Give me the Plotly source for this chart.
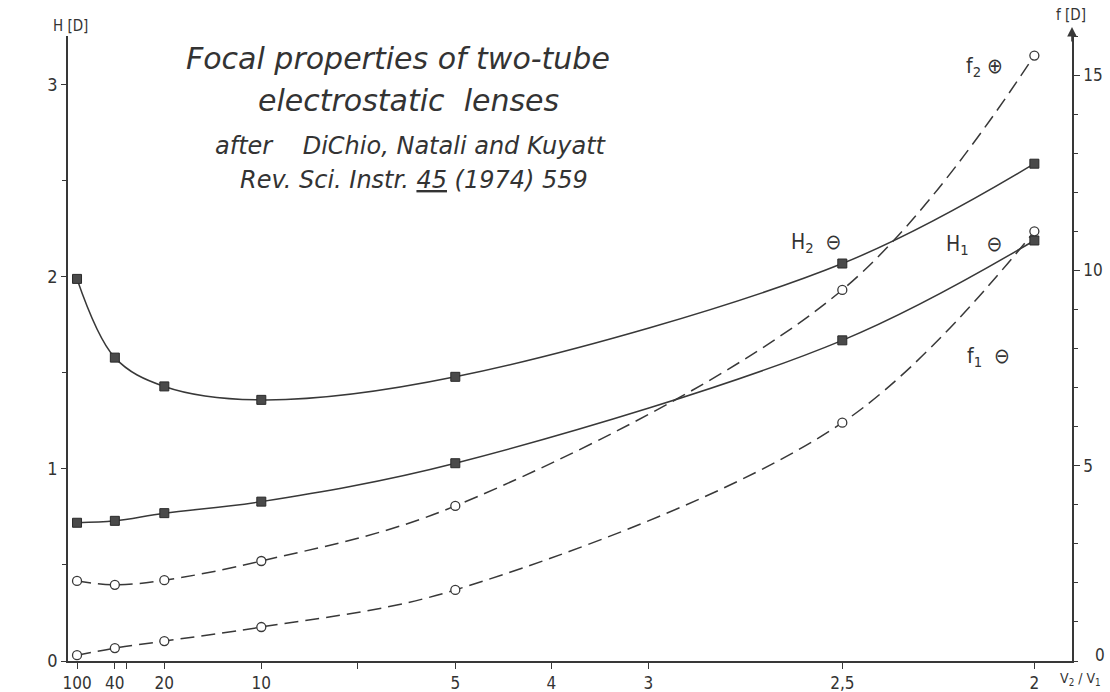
import plotly.graph_objects as go

# ---- data -------------------------------------------------------------
ratio_labels = ["100", "40", "", "20", "10", "", "5", "4", "3", "2,5", "2"]
tick_pos = [0.0, 0.39, 0.505, 0.9, 1.9, 2.89, 3.9, 4.89, 5.89, 7.89, 9.87]

ratios = ["100", "40", "20", "10", "5", "2,5", "2"]
H2 = [1.99, 1.58, 1.43, 1.36, 1.48, 2.07, 2.59]
H1 = [0.72, 0.73, 0.77, 0.83, 1.03, 1.67, 2.19]
f2 = [2.05, 1.95, 2.07, 2.56, 3.97, 9.5, 15.5]
f1 = [0.15, 0.33, 0.51, 0.87, 1.82, 6.1, 11.0]

pos_of = {lab: p for lab, p in zip(ratio_labels, tick_pos) if lab}
xs = [pos_of[r] for r in ratios]

INK = "#383838"
FONT = "Liberation Sans Narrow, DejaVu Sans Condensed, Arial Narrow, sans-serif"
TFONT = "DejaVu Sans, Liberation Sans, sans-serif"

fig = go.Figure()

sq = dict(symbol="square", size=9, color="#4a4a4a", line=dict(color="#2a2a2a", width=1))
oc = dict(symbol="circle", size=9, color="white", line=dict(color=INK, width=1.3))

fig.add_trace(go.Scatter(x=xs, y=H2, mode="lines+markers",
                         line=dict(color=INK, width=1.5, shape="spline"),
                         marker=sq, yaxis="y", showlegend=False))
fig.add_trace(go.Scatter(x=xs, y=H1, mode="lines+markers",
                         line=dict(color=INK, width=1.5, shape="spline"),
                         marker=sq, yaxis="y", showlegend=False))
fig.add_trace(go.Scatter(x=xs, y=f2, mode="lines+markers",
                         line=dict(color=INK, width=1.5, shape="spline", dash="14px,7px"),
                         marker=oc, yaxis="y2", showlegend=False))
fig.add_trace(go.Scatter(x=xs, y=f1, mode="lines+markers",
                         line=dict(color=INK, width=1.5, shape="spline", dash="14px,7px"),
                         marker=oc, yaxis="y2", showlegend=False))

L, R, T, B = 68, 38, 36, 31
W, Hh = 1110, 692
pw, ph = W - L - R, Hh - T - B


def px(xp):
    return (xp - L) / pw


def py(yp):
    return (Hh - B - yp) / ph


annos = []
# title block
title_lines = [
    ("Focal properties of two-tube", 398, 58, 30),
    ("electrostatic  lenses", 408, 100, 30),
    ("after    DiChio, Natali and Kuyatt", 411, 146, 24),
    ("Rev. Sci. Instr. <u>45</u> (1974) 559", 414, 180, 24),
]
for txt, x0, y0, sz in title_lines:
    annos.append(dict(text=f"<i>{txt}</i>", x=px(x0), y=py(y0), xref="paper", yref="paper",
                      showarrow=False, xanchor="center", yanchor="middle",
                      font=dict(family=TFONT, size=sz, color="#333")))

# series labels
series_labels = [
    ("H<sub>2</sub>  ⊖", 816, 243),
    ("H<sub>1</sub>   ⊖", 974, 245),
    ("f<sub>1</sub>  ⊖", 988, 357),
    ("f<sub>2</sub> ⊕", 984, 67),
]
for txt, x0, y0 in series_labels:
    annos.append(dict(text=txt, x=px(x0), y=py(y0), xref="paper", yref="paper",
                      showarrow=False, xanchor="center", yanchor="middle",
                      font=dict(family=FONT, size=21, color="#333")))

# axis titles
annos.append(dict(text="H [D]", x=px(70), y=py(26), xref="paper", yref="paper", showarrow=False,
                  xanchor="center", yanchor="middle", font=dict(family=FONT, size=15, color="#333")))
annos.append(dict(text="f [D]", x=px(1071), y=py(15), xref="paper", yref="paper", showarrow=False,
                  xanchor="center", yanchor="middle", font=dict(family=FONT, size=15, color="#333")))
annos.append(dict(text="V<sub>2</sub> / V<sub>1</sub>", x=px(1080), y=py(679), xref="paper", yref="paper",
                  showarrow=False, xanchor="center", yanchor="middle",
                  font=dict(family=FONT, size=14, color="#333")))
# arrow on right axis
annos.append(dict(text="", x=1, y=py(27), xref="paper", yref="paper", ax=0, ay=16,
                  showarrow=True, arrowhead=2, arrowsize=1.2, arrowwidth=1.6, arrowcolor=INK))

fig.update_layout(
    width=W, height=Hh, margin=dict(l=L, r=R, t=T, b=B),
    paper_bgcolor="white", plot_bgcolor="white",
    annotations=annos,
    xaxis=dict(range=[-0.093, 10.258], tickmode="array", tickvals=tick_pos, ticktext=ratio_labels,
               showgrid=False, zeroline=False, showline=True, linecolor=INK, linewidth=1.6,
               ticks="outside", ticklen=6, tickwidth=1.4, tickcolor=INK, automargin=False,
               tickfont=dict(family=FONT, size=17, color="#333")),
    yaxis=dict(range=[0, 3.255], tickvals=[0, 1, 2, 3], showgrid=False, zeroline=False,
               showline=True, linecolor=INK, linewidth=1.8, ticks="outside", ticklen=5,
               tickwidth=1.2, tickcolor=INK, automargin=False,
               tickfont=dict(family=FONT, size=18, color="#333"),
               minor=dict(dtick=0.5, ticks="outside", ticklen=4, tickcolor=INK)),
    yaxis2=dict(range=[0, 16.0], tickvals=[5, 10, 15], overlaying="y", side="right",
                showgrid=False, zeroline=False, showline=True, linecolor=INK, linewidth=1.8,
                ticks="outside", ticklen=6, tickwidth=1.2, tickcolor=INK, automargin=False,
                tickfont=dict(family=FONT, size=17, color="#333"),
                minor=dict(dtick=1, ticks="outside", ticklen=4, tickcolor=INK)),
)

# right-axis zero label placed slightly above the corner, as in the reference
fig.add_annotation(text="0", x=px(1100), y=py(655), xref="paper", yref="paper", showarrow=False,
                   xanchor="center", yanchor="middle", font=dict(family=FONT, size=17, color="#333"))

fig.write_html("out.html")
